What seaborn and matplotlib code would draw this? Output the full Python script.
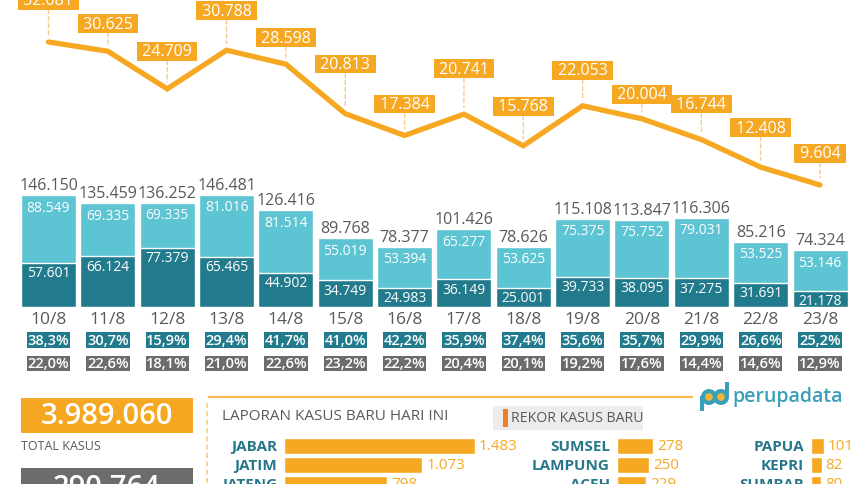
import matplotlib
matplotlib.use("Agg")
import pandas as pd
import seaborn as sns
import matplotlib.pyplot as plt
from matplotlib.patches import Rectangle, Circle

# ---- data -------------------------------------------------------------
dates = ["10/8", "11/8", "12/8", "13/8", "14/8", "15/8", "16/8",
         "17/8", "18/8", "19/8", "20/8", "21/8", "22/8", "23/8"]
new_cases = [32081, 30625, 24709, 30788, 28598, 20813, 17384,
             20741, 15768, 22053, 20004, 16744, 12408, 9604]
tests_total = [146150, 135459, 136252, 146481, 126416, 89768, 78377,
               101426, 78626, 115108, 113847, 116306, 85216, 74324]
tests_dark = [57601, 66124, 77379, 65465, 44902, 34749, 24983,
              36149, 25001, 39733, 38095, 37275, 31691, 21178]
tests_light = [88549, 69335, 69335, 81016, 81514, 55019, 53394,
               65277, 53625, 75375, 75752, 79031, 53525, 53146]
pct_teal = ["38,3%", "30,7%", "15,9%", "29,4%", "41,7%", "41,0%", "42,2%",
            "35,9%", "37,4%", "35,6%", "35,7%", "29,9%", "26,6%", "25,2%"]
pct_grey = ["22,0%", "22,6%", "18,1%", "21,0%", "22,6%", "23,2%", "22,2%",
            "20,4%", "20,1%", "19,2%", "17,6%", "14,4%", "14,6%", "12,9%"]

total_kasus = 3989060
kasus_aktif = 290764

prov_a = ["JABAR", "JATIM", "JATENG"]
prov_a_cases = [1483, 1073, 798]
prov_b = ["SUMSEL", "LAMPUNG", "ACEH"]
prov_b_cases = [278, 250, 229]
prov_c = ["PAPUA", "KEPRI", "SUMBAR"]
prov_c_cases = [101, 82, 80]

# hand placed label lifts above the line (px)
label_gap_px = [32, 18, 28, 30, 17, 40, 22, 36, 30, 26, 15, 26, 30, 22]

# ---- style ------------------------------------------------------------
ORANGE = "#f6a823"
ORANGE_SOFT = "#f7cc8f"
TEAL_LIGHT = "#5cc4d3"
TEAL_DARK = "#227b8d"
GREY_BOX = "#6b6c6e"
GREY_TEXT = "#58595b"
NAME_TEAL = "#27778a"
REKOR = "#f07d28"

sns.set_style("white")
plt.rcParams["font.family"] = ["Open Sans", "DejaVu Sans"]

W, H = 862, 485
PT = 0.72  # points per pixel at dpi 100


def fmt(v):
    return f"{v:,}".replace(",", ".")


def px_axes(x0, y0, x1, y1):
    ax = fig.add_axes([x0 / W, 1 - y1 / H, (x1 - x0) / W, (y1 - y0) / H])
    ax.set_axis_off()
    ax.patch.set_alpha(0)
    return ax


fig = plt.figure(figsize=(W / 100, H / 100), dpi=100)

# background / decoration layer in pixel coordinates
bg = px_axes(0, 0, W, H)
bg.set_xlim(0, W)
bg.set_ylim(H, 0)

XLIM = (-0.817, 13.707)
idx = list(range(len(dates)))

# ---- daily new cases line ----------------------------------------------
ax_line = px_axes(0, 0, W, 200)
line_df = pd.DataFrame({"i": idx, "cases": new_cases})
sns.lineplot(data=line_df, x="i", y="cases", ax=ax_line, color=ORANGE,
             lw=3.8, solid_capstyle="round", solid_joinstyle="miter")
ax_line.set_xlim(*XLIM)
ax_line.set_ylim(7400, 38840)
ax_line.set_axis_off()
for i, v in enumerate(new_cases):
    ax_line.annotate(f" {fmt(v)} ", xy=(i, v),
                     xytext=(0, (label_gap_px[i] + 9.5) * PT),
                     textcoords="offset points", ha="center", va="center",
                     fontsize=11.5, color="white", annotation_clip=False,
                     bbox=dict(boxstyle="square,pad=0.08", fc=ORANGE, ec="none"),
                     arrowprops=dict(arrowstyle="-", color=ORANGE_SOFT, lw=1,
                                     linestyle=(0, (3, 2)), shrinkA=0, shrinkB=5))

# ---- stacked test bars -------------------------------------------------
ax_bar = px_axes(0, 170, W, 308)
bar_df = pd.DataFrame({"date": dates, "total": tests_total, "dark": tests_dark})
sns.barplot(data=bar_df, x="date", y="total", color=TEAL_LIGHT, saturation=1,
            width=0.927, ax=ax_bar)
sns.barplot(data=bar_df, x="date", y="dark", color=TEAL_DARK, saturation=1,
            width=0.927, ax=ax_bar)
ax_bar.set_xlim(*XLIM)
ax_bar.set_ylim(0, 180157)
ax_bar.set_axis_off()
for i in idx:
    ax_bar.annotate(fmt(tests_total[i]), xy=(i, tests_total[i]), xytext=(0, 10 * PT),
                    textcoords="offset points", ha="center", va="center",
                    fontsize=11.5, color=GREY_TEXT, annotation_clip=False)
    ax_bar.annotate(fmt(tests_light[i]), xy=(i, tests_total[i]), xytext=(0, -12 * PT),
                    textcoords="offset points", ha="center", va="center",
                    fontsize=10, color="white", annotation_clip=False)
    ax_bar.annotate(fmt(tests_dark[i]), xy=(i, tests_dark[i]), xytext=(0, -10 * PT),
                    textcoords="offset points", ha="center", va="center",
                    fontsize=10, color="white", annotation_clip=False)
    ax_bar.annotate(dates[i], xy=(i, 0), xytext=(0, -12 * PT),
                    textcoords="offset points", ha="center", va="center",
                    fontsize=12.5, color=GREY_TEXT, annotation_clip=False)
    ax_bar.annotate(pct_teal[i], xy=(i, 0), xytext=(0, -33 * PT),
                    textcoords="offset points", ha="center", va="center",
                    fontsize=10.5, fontweight="semibold", color="white",
                    annotation_clip=False,
                    bbox=dict(boxstyle="square,pad=0.06", fc=TEAL_DARK, ec="none"))
    ax_bar.annotate(pct_grey[i], xy=(i, 0), xytext=(0, -56.5 * PT),
                    textcoords="offset points", ha="center", va="center",
                    fontsize=10.5, fontweight="semibold", color="white",
                    annotation_clip=False,
                    bbox=dict(boxstyle="square,pad=0.06", fc=GREY_BOX, ec="none"))

# ---- bottom panel ------------------------------------------------------
bg.add_patch(Rectangle((21, 399), 172, 35, fc=ORANGE, ec="none"))
bg.text(107, 417, fmt(total_kasus), ha="center", va="center", fontsize=21,
        fontweight="semibold", color="white")
bg.text(21, 447, "TOTAL KASUS", ha="left", va="center", fontsize=9, color=GREY_TEXT)
bg.add_patch(Rectangle((21, 469), 172, 40, fc=GREY_BOX, ec="none"))
bg.text(107, 489, fmt(kasus_aktif), ha="center", va="center", fontsize=21,
        fontweight="semibold", color="white")

bg.plot([207, 207], [404, 485], color=ORANGE_SOFT, lw=1.2, linestyle=(0, (3, 2)))
bg.plot([209, 692], [398, 398], color=ORANGE, lw=1.6, alpha=0.8)
bg.text(222, 417, "LAPORAN KASUS BARU HARI INI", ha="left", va="center",
        fontsize=11, color=GREY_TEXT)
bg.add_patch(Rectangle((493, 407), 150, 24, fc="#ececec", ec="none"))
bg.add_patch(Rectangle((503, 410), 5, 18, fc=REKOR, ec="none"))
bg.text(511, 419, "REKOR KASUS BARU", ha="left", va="center", fontsize=10.2,
        color=GREY_TEXT)

# logo
LOGO = "#3a9fb8"
bg.add_patch(Rectangle((700.5, 397), 4, 15, fc=LOGO, ec="none"))
bg.add_patch(Rectangle((725.5, 383), 4, 15, fc=LOGO, ec="none"))
for cx in (709, 721):
    bg.add_patch(Circle((cx, 398), 8, fc=LOGO, ec="none"))
    bg.add_patch(Circle((cx, 398), 3.8, fc="#f2b636", ec="none"))
bg.text(732, 397, "perupadata", ha="left", va="center", fontsize=14,
        fontweight="semibold", color=LOGO)

# province bars, same scale in all three columns
PX_PER_CASE = 0.1288
for names, cases, x0, width in [(prov_a, prov_a_cases, 284, 210),
                                 (prov_b, prov_b_cases, 617, 60),
                                 (prov_c, prov_c_cases, 811, 40)]:
    ax_p = px_axes(x0, 437.5, x0 + width, 485)
    p_df = pd.DataFrame({"prov": names, "cases": cases})
    sns.barplot(data=p_df, x="cases", y="prov", orient="h", color=ORANGE,
                saturation=1, width=0.88, ax=ax_p)
    ax_p.set_xlim(0, width / PX_PER_CASE)
    ax_p.set_ylim(2.0, -0.5)
    ax_p.set_axis_off()
    for i, (n, c) in enumerate(zip(names, cases)):
        ax_p.annotate(n, xy=(0, i), xytext=(-7 * PT, 0), textcoords="offset points",
                      ha="right", va="center", fontsize=11, fontweight="bold",
                      color=NAME_TEAL, annotation_clip=False)
        ax_p.annotate(fmt(c), xy=(c, i), xytext=(4 * PT, 0), textcoords="offset points",
                      ha="left", va="center", fontsize=11, color=ORANGE,
                      annotation_clip=False)

fig.savefig("out.png", dpi=100)
